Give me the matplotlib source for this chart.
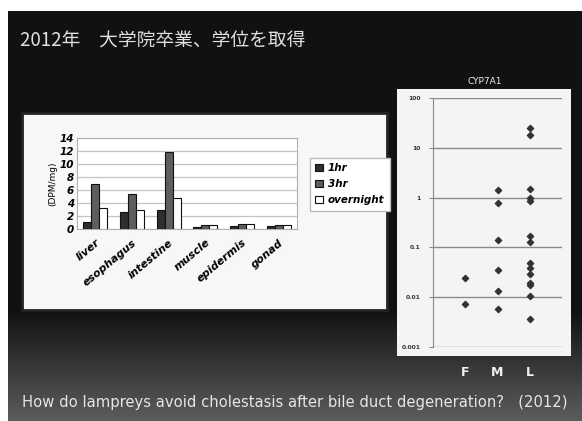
import numpy as np
import matplotlib.pyplot as plt

plt.rcParams['font.family'] = ['Noto Sans CJK JP', 'DejaVu Sans']

# tissue uptake (DPM/mg)
tissues = ["liver", "esophagus", "intestine", "muscle", "epidermis", "gonad"]
hr1 = [1.1, 2.6, 2.9, 0.35, 0.45, 0.45]
hr3 = [7.0, 5.4, 11.8, 0.55, 0.7, 0.55]
overnight = [3.3, 3.0, 4.8, 0.55, 0.7, 0.55]
series_names = ["1hr", "3hr", "overnight"]

# CYP7A1 expression by stage
stages = ["F", "M", "L"]
cyp_f = [0.0245, 0.0072]
cyp_m = [1.43, 0.79, 0.139, 0.035, 0.0133, 0.0057]
cyp_l = [24.9, 18.3, 1.50, 0.96, 0.86, 0.17, 0.127,
         0.048, 0.038, 0.029, 0.019, 0.0175, 0.0105, 0.0036]
log_ticks = [0.001, 0.01, 0.1, 1, 10, 100]
log_labels = ["0.001", "0.01", "0.1", "1", "10", "100"]

W, H = 582, 421
fig = plt.figure(figsize=(W / 100, H / 100), dpi=100)
fig.patch.set_facecolor("white")


def box(x0, y0, x1, y1):
    # pixel box (top-left origin) -> figure fraction rect
    return [x0 / W, 1 - y1 / H, (x1 - x0) / W, (y1 - y0) / H]


# slide background with dark-to-grey gradient
bg = fig.add_axes(box(8, 11, 582, 421))
grad = np.concatenate([np.full(300, 0.07), np.linspace(0.07, 0.36, 110)])
bg.imshow(grad[:, None], cmap="gray", vmin=0, vmax=1, aspect="auto",
          extent=[0, 1, 0, 1], origin="upper")
bg.set_xlim(0, 1)
bg.set_ylim(0, 1)
bg.axis("off")

fig.text(20 / W, 1 - 41 / H, "2012年　大学院卒業、学位を取得", color="#e0e0e0",
         fontsize=13.5, va="center", ha="left")
fig.text(22 / W, 1 - 403 / H,
         "How do lampreys avoid cholestasis after bile duct degeneration?   (2012)",
         color="#e6e6e6", fontsize=10.6, va="center", ha="left",
         family="DejaVu Sans")

# bar chart panel
panel = fig.add_axes(box(22, 113, 387, 310))
panel.set_xticks([])
panel.set_yticks([])
panel.set_facecolor("#f7f7f7")
for s in panel.spines.values():
    s.set_color("#222222")
    s.set_linewidth(2)

ax = fig.add_axes(box(77, 138, 297, 229))
x = np.arange(len(tissues))
bw = 0.22
colors = ["#2e2e2e", "#5e5e5e", "#ffffff"]
for i, (vals, c) in enumerate(zip([hr1, hr3, overnight], colors)):
    ax.bar(x + (i - 1) * bw, vals, bw, color=c, edgecolor="#111111",
           linewidth=0.8, label=series_names[i], zorder=3)
ax.set_xlim(-0.5, len(tissues) - 0.5)
ax.set_ylim(0, 14)
ax.set_yticks(range(0, 15, 2))
ax.set_yticklabels([str(v) for v in range(0, 15, 2)], fontsize=7.5,
                   fontweight="bold", style="italic", family="DejaVu Sans")
ax.set_xticks(x)
ax.set_xticklabels(tissues, rotation=40, ha="right", rotation_mode="anchor",
                   fontsize=7.8, fontweight="bold", style="italic",
                   family="DejaVu Sans")
ax.tick_params(length=0, pad=2)
ax.tick_params(axis="x", pad=6)
ax.grid(axis="y", color="#c4c4c4", linewidth=0.9, zorder=0)
ax.set_facecolor("white")
for s in ax.spines.values():
    s.set_color("#b0b0b0")
ax.set_ylabel("(DPM/mg)", fontsize=6.5, family="DejaVu Sans", labelpad=2)

leg = ax.legend(loc="upper left", bbox_to_anchor=(228 / 220, 0.84),
                prop={"family": "DejaVu Sans", "weight": "bold",
                      "style": "italic", "size": 7.5},
                handlelength=0.7, handleheight=0.7, handletextpad=0.5,
                labelspacing=0.6, borderpad=0.5, fancybox=False,
                framealpha=1, edgecolor="#bbbbbb")

# CYP7A1 scatter panel
fig.text(485 / W, 1 - 81 / H, "CYP7A1", color="#eeeeee", fontsize=6.5,
         ha="center", va="center", family="DejaVu Sans")
panel2 = fig.add_axes(box(397, 89, 571, 356))
panel2.set_xticks([])
panel2.set_yticks([])
panel2.set_facecolor("#f4f4f4")
for s in panel2.spines.values():
    s.set_visible(False)

ax2 = fig.add_axes(box(433, 98, 562, 347))
ax2.set_facecolor("none")
for pos, vals in zip([1, 2, 3], [cyp_f, cyp_m, cyp_l]):
    ax2.scatter([pos] * len(vals), vals, marker="D", s=10, color="#333333",
                zorder=3)
ax2.set_yscale("log")
ax2.set_ylim(0.001, 100)
ax2.set_xlim(0, 4)
ax2.set_yticks(log_ticks)
ax2.set_yticklabels(log_labels, fontsize=4.3, family="DejaVu Sans",
                    fontweight="bold", color="#333333")
ax2.minorticks_off()
ax2.set_xticks([])
ax2.tick_params(axis="y", length=3, color="#888888", pad=6)
ax2.grid(axis="y", color="#8a8a8a", linewidth=1, zorder=0)
for k in ["top", "right", "bottom"]:
    ax2.spines[k].set_visible(False)
ax2.spines["left"].set_color("#8a8a8a")

for pos, lab in zip([1, 2, 3], stages):
    xf = (433 + pos * 129 / 4) / W
    fig.text(xf, 1 - 373 / H, lab, color="#f0f0f0", fontsize=9,
             fontweight="bold", ha="center", va="center",
             family="DejaVu Sans")

fig.savefig("out.png", dpi=100)
